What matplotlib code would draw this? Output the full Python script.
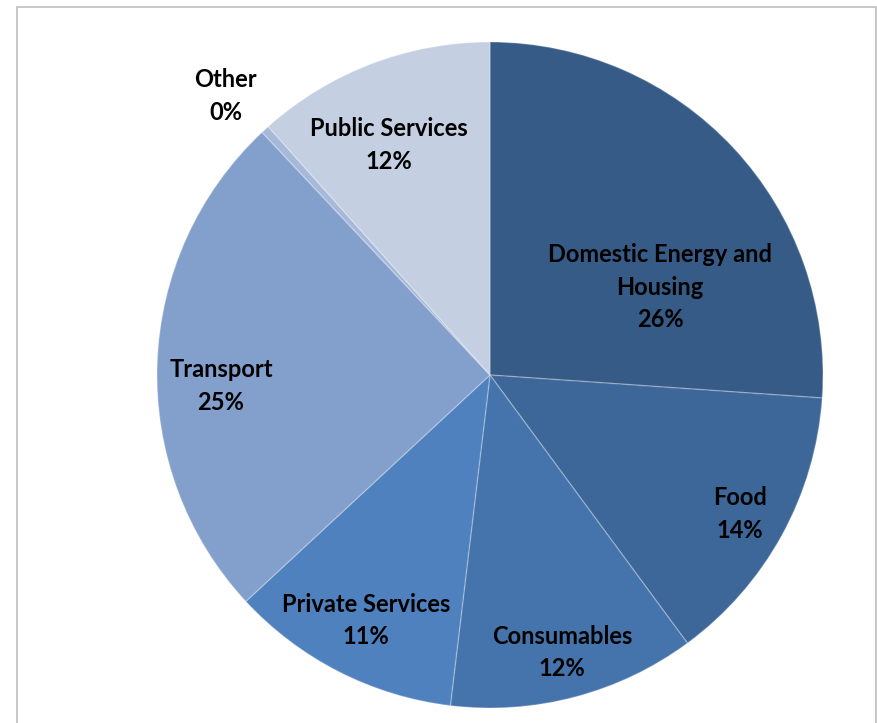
import matplotlib
matplotlib.use("Agg")
import matplotlib.pyplot as plt
from matplotlib.patches import Rectangle

# Share of emissions by category (%)
categories = ["Domestic Energy and\nHousing", "Food", "Consumables", "Private Services",
              "Transport", "Other", "Public Services"]
shares = [26.1, 13.8, 12.0, 11.2, 24.9, 0.4, 11.6]
colors = ["#365B87", "#3E6799", "#4573AC", "#4E81BD", "#839FCC", "#A7B9D9", "#C4CFE2"]

# label anchor points in data units (pie radius = 1)
label_xy = [(0.511, 0.264), (0.751, -0.417), (0.216, -0.834), (-0.372, -0.737),
            (-0.808, -0.033), (-0.793, 0.838), (-0.303, 0.691)]

W, H = 878, 723
fig = plt.figure(figsize=(W / 100, H / 100), dpi=100)
fig.patch.set_facecolor("white")

cx, cy, r = 490, 375, 333
ax = fig.add_axes([(cx - r) / W, (H - cy - r) / H, 2 * r / W, 2 * r / H])

wedges, _ = ax.pie(shares, colors=colors, startangle=90, counterclock=False,
                   radius=1.0, wedgeprops=dict(edgecolor=(1, 1, 1, 0.25), linewidth=1.0))
ax.set_xlim(-1, 1)
ax.set_ylim(-1, 1)
ax.set_aspect("equal")
ax.axis("off")

for name, val, (x, y) in zip(categories, shares, label_xy):
    ax.text(x, y, f"{name}\n{val:.0f}%", ha="center", va="center",
            fontsize=17, fontweight="bold", family=["Lato", "DejaVu Sans"],
            color="black", linespacing=1.5, clip_on=False)

# chart-area frame
fig.patches.append(Rectangle((17 / W, -0.01), (876 - 17) / W, (H - 7) / H + 0.01,
                             transform=fig.transFigure, fill=False,
                             edgecolor="#BFBFBF", linewidth=1.2))

fig.savefig("out.png", dpi=100)
